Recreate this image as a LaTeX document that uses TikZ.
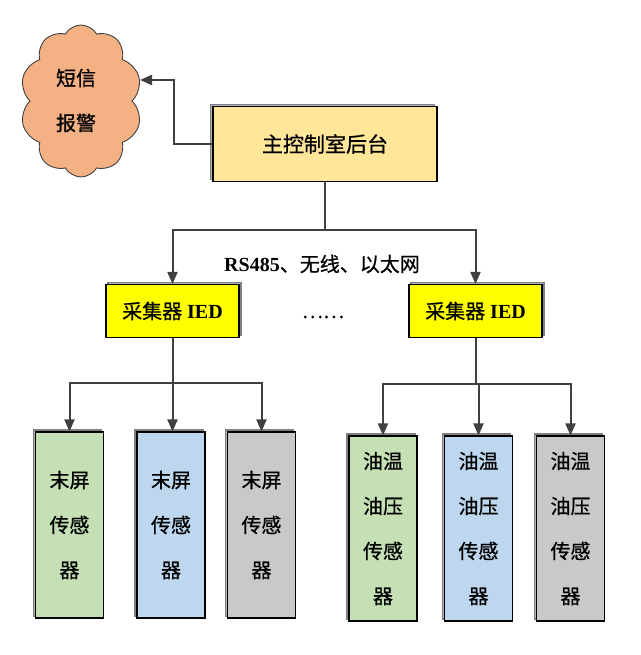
\documentclass[tikz,border=0pt]{standalone}
\usepackage{fontspec}
\setmainfont{Liberation Serif}
\newfontfamily\cjk[FakeBold=0.7]{Noto Sans CJK SC}
\usetikzlibrary{shapes.symbols,arrows.meta,shadows}
\definecolor{linec}{HTML}{404040}
\definecolor{mainfill}{HTML}{FFE699}
\definecolor{iedfill}{HTML}{FFFF00}
\definecolor{greenfill}{HTML}{C5E0B4}
\definecolor{bluefill}{HTML}{BDD7EE}
\definecolor{grayfill}{HTML}{C9C9C9}
\definecolor{cloudfill}{HTML}{F4B183}
\tikzset{
  conn/.style={draw=linec, line width=2pt},
  arr/.style={conn, -{Triangle[length=12pt,width=10pt]}},
  boxshadow/.style={copy shadow={shadow xshift=#1, shadow yshift=2pt, draw=gray, fill=gray!60}},
  basebox/.style={draw=black, line width=1.1pt, inner sep=0pt, font=\fontsize{20}{24}\selectfont},
  mainbox/.style={basebox, fill=mainfill, minimum width=224pt, minimum height=75pt, boxshadow=-2.5pt},
  iedbox/.style={basebox, fill=iedfill, minimum width=133pt, minimum height=53pt, boxshadow=2pt},
  sensorbox/.style={basebox, minimum width=68pt, minimum height=186pt, align=center, boxshadow=-2pt, font=\fontsize{20}{45}\selectfont},
  cloudnode/.style={cloud, cloud puffs=10, cloud puff arc=120, aspect=0.8, draw=linec, line width=0.9pt, fill=cloudfill, minimum width=122pt, minimum height=152pt, inner sep=0pt},
  plain/.style={inner sep=0pt, font=\fontsize{20}{24}\selectfont}
}
\begin{document}
\begin{tikzpicture}[x=1pt,y=-1pt]
\useasboundingbox (0,0) rectangle (640,655);
% cloud
\node[cloudnode] (cloud) at (81,101) {};
\node[plain, align=center, font=\fontsize{20}{45}\selectfont] (cloudtxt) at (76,100.5) {\cjk 短信\\\cjk 报警};
% main box
\node[mainbox] (main) at (325,144) {\fontsize{21}{24}\selectfont\cjk 主控制室后台};
% IEDs
\node[iedbox] (ied1) at (172.5,311) {{\cjk 采集器} \textbf{IED}};
\node[iedbox] (ied2) at (475.5,311) {{\cjk 采集器} \textbf{IED}};
\node[plain] (dots) at (323,317) {\cjk ……};
\node[plain] (lbl) at (322,264) {\textbf{RS485}{\cjk 、无线、以太网}};
% sensors left
\node[sensorbox, fill=greenfill] (s1) at (69.5,525) {\cjk 末屏\\\cjk 传感\\\cjk 器};
\node[sensorbox, fill=bluefill] (s2) at (171,525) {\cjk 末屏\\\cjk 传感\\\cjk 器};
\node[sensorbox, fill=grayfill] (s3) at (261.5,525) {\cjk 末屏\\\cjk 传感\\\cjk 器};
% sensors right
\node[sensorbox, fill=greenfill, minimum height=185pt] (r1) at (383,528.5) {\cjk 油温\\\cjk 油压\\\cjk 传感\\\cjk 器};
\node[sensorbox, fill=bluefill, minimum height=185pt] (r2) at (478.5,528.5) {\cjk 油温\\\cjk 油压\\\cjk 传感\\\cjk 器};
\node[sensorbox, fill=grayfill, minimum height=185pt] (r3) at (570.5,528.5) {\cjk 油温\\\cjk 油压\\\cjk 传感\\\cjk 器};
% coordinates
\coordinate (ctip) at (140,80);
\coordinate (bus) at (325,230);
\coordinate (busl) at (172.5,383);
\coordinate (busr) at (475.5,384);
% connectors
\draw[arr] (main.west) -- (174,144) |- (ctip);
\draw[conn] (main.south) -- (bus);
\draw[arr] (bus) -| (ied1.north);
\draw[arr] (bus) -| (ied2.north);
\draw[conn] (ied1.south) -- (busl);
\draw[arr] (busl) -| (s1.north);
\draw[arr] (busl) -- (s2.north -| busl);
\draw[arr] (busl) -| (s3.north);
\draw[conn] (ied2.south) -- (busr);
\draw[arr] (busr) -| (r1.north);
\draw[arr] (busr) -| (r2.north);
\draw[arr] (busr) -| (r3.north);
\end{tikzpicture}
\end{document}
